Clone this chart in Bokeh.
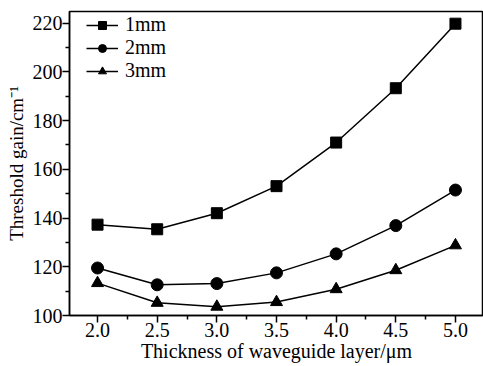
from bokeh.plotting import figure
from bokeh.models import Range1d, FixedTicker, Legend, LegendItem, NumeralTickFormatter
from bokeh.embed import file_html
from bokeh.resources import INLINE

thickness = [2.0, 2.5, 3.0, 3.5, 4.0, 4.5, 5.0]
gain_1mm = [137.3, 135.4, 142.0, 153.1, 171.0, 193.3, 219.8]
gain_2mm = [119.5, 112.6, 113.1, 117.5, 125.3, 136.9, 151.5]
gain_3mm = [113.3, 105.2, 103.6, 105.5, 110.8, 118.6, 128.8]
labels = ["1mm", "2mm", "3mm"]
y_ticks = [100, 120, 140, 160, 180, 200, 220]

FONT = "Liberation Serif"

p = figure(width=483, height=366, output_backend="svg", toolbar_location=None,
           x_range=Range1d(1.765, 5.235), y_range=Range1d(100, 224.8),
           min_border_left=69, min_border_top=11, min_border_right=0, min_border_bottom=51)
p.grid.visible = False
p.outline_line_color = "black"
p.outline_line_width = 1.5
p.background_fill_color = "white"
p.border_fill_color = "white"

r1l = p.line(thickness, gain_1mm, line_color="black", line_width=1.5)
r1m = p.scatter(thickness, gain_1mm, marker="square", size=11, color="black")
r2l = p.line(thickness, gain_2mm, line_color="black", line_width=1.5)
r2m = p.scatter(thickness, gain_2mm, marker="circle", size=12, color="black")
r3l = p.line(thickness, gain_3mm, line_color="black", line_width=1.5)
r3m = p.scatter(thickness, gain_3mm, marker="triangle", size=12, color="black")

legend = Legend(items=[
    LegendItem(label=labels[0], renderers=[r1l, r1m]),
    LegendItem(label=labels[1], renderers=[r2l, r2m]),
    LegendItem(label=labels[2], renderers=[r3l, r3m]),
], location=(17, 233))
legend.border_line_color = None
legend.background_fill_alpha = 0
legend.label_text_font = FONT
legend.label_text_font_size = "20px"
legend.label_text_color = "black"
legend.glyph_width = 32
legend.glyph_height = 20
legend.label_height = 20
legend.label_standoff = 7
legend.spacing = -3
legend.padding = 0
legend.margin = 0
p.add_layout(legend)

for ax in (p.xaxis[0], p.yaxis[0]):
    ax.axis_line_width = 1.5
    ax.axis_line_color = "black"
    ax.major_tick_line_width = 1.5
    ax.minor_tick_line_width = 1.5
    ax.major_tick_line_color = "black"
    ax.minor_tick_line_color = "black"
    ax.major_tick_in = 0
    ax.major_tick_out = 7
    ax.minor_tick_in = 0
    ax.minor_tick_out = 4
    ax.major_label_text_font = FONT
    ax.major_label_text_font_size = "20px"
    ax.major_label_text_color = "black"
    ax.axis_label_text_font = FONT
    ax.axis_label_text_font_size = "20px"
    ax.axis_label_text_color = "black"
    ax.axis_label_text_font_style = "normal"

p.xaxis.ticker = FixedTicker(ticks=thickness, minor_ticks=[2.25, 2.75, 3.25, 3.75, 4.25, 4.75])
p.xaxis.formatter = NumeralTickFormatter(format="0.0")
p.xaxis.axis_label = "Thickness of waveguide layer/\u03bcm"
p.xaxis.major_label_standoff = 0
p.xaxis.axis_label_standoff = 0
p.yaxis.ticker = FixedTicker(ticks=y_ticks, minor_ticks=[110, 130, 150, 170, 190, 210])
p.yaxis.axis_label = "Threshold gain/cm\u207b\u00b9"
p.yaxis.axis_label_text_font_size = "19px"
p.yaxis.major_label_standoff = 0
p.yaxis.axis_label_standoff = 3

open("out.html", "w").write(file_html(p, INLINE))
